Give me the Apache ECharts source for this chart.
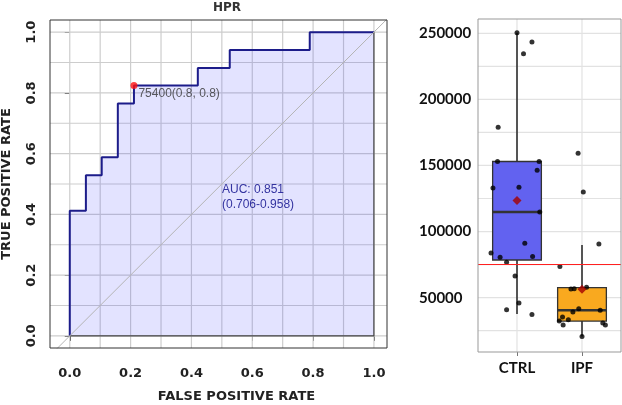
<!DOCTYPE html>
<html>
<head>
<meta charset="utf-8">
<script src="https://cdn.jsdelivr.net/npm/echarts@6/dist/echarts.min.js"></script>
<style>
  html, body { margin: 0; padding: 0; background: #fff; }
  #chart { width: 622px; height: 405px; }
</style>
</head>
<body>
<div id="chart"></div>
<script>
// ROC curve steps (false positive rate, true positive rate)
const rocFpr = [0, 0, 0.053, 0.053, 0.105, 0.105, 0.158, 0.158, 0.211, 0.211, 0.421, 0.421, 0.526, 0.526, 0.789, 0.789, 1];
const rocTpr = [0, 0.412, 0.412, 0.529, 0.529, 0.588, 0.588, 0.765, 0.765, 0.824, 0.824, 0.882, 0.882, 0.941, 0.941, 1, 1];
const bestPoint = [0.211, 0.824];
const bestLabel = '75400(0.8, 0.8)';
const aucText = ['AUC: 0.851', '(0.706-0.958)'];
const rocTicks = [0, 0.2, 0.4, 0.6, 0.8, 1];
const rocGrid = [0, 0.1, 0.2, 0.3, 0.4, 0.5, 0.6, 0.7, 0.8, 0.9, 1];

// boxplot panel
const groups = ['CTRL', 'IPF'];
// [min, q1, median, q3, max]
const boxStats = [
  [37600, 78500, 114850, 153000, 250450],
  [20700, 32300, 40400, 57600, 89850]
];
const groupMeans = [123500, 56300];
const cutoff = 75400;
const ctrlValues = [250450, 243400, 234550, 179000, 153000, 153000, 146450, 133000, 133600, 114850, 91150, 83800, 80500, 81050, 76750, 66350, 45900, 40900, 37350];
const ctrlJitter = [0.00, 0.23, 0.10, -0.29, -0.30, 0.34, 0.31, -0.37, 0.03, 0.35, 0.12, -0.40, -0.26, 0.24, -0.16, -0.03, 0.03, -0.16, 0.23];
const ipfValues = [159300, 130000, 90600, 73500, 56500, 56800, 57800, 41650, 39100, 40400, 32300, 35300, 33350, 29250, 30750, 29250, 20700];
const ipfJitter = [-0.06, 0.02, 0.26, -0.34, -0.17, -0.12, 0.07, -0.05, -0.14, 0.28, -0.35, -0.30, -0.21, -0.29, 0.32, 0.36, 0.00];
const boxTicks = [50000, 100000, 150000, 200000, 250000];
const boxGrid = [25000, 50000, 75000, 100000, 125000, 150000, 175000, 200000, 225000, 250000];

const boxColors = ['#6262f0', '#f9a91f'];
const leftFont = { fontFamily: 'DejaVu Sans', fontWeight: 'bold', fontSize: 13, color: '#222' };
const rightFont = { fontFamily: 'Lato', fontWeight: 'bold', fontSize: 15, color: '#111' };

const chart = echarts.init(document.getElementById('chart'));

const rocX = [-0.065, 1.043];
const rocY = [-0.04, 1.04];
const boxX = [0.4, 2.6];
const boxY = [8900, 260800];

const rocData = rocFpr.map((x, i) => [x, rocTpr[i]]);
const jitterPoints = ctrlValues.map((v, i) => [1 + ctrlJitter[i], v])
  .concat(ipfValues.map((v, i) => [2 + ipfJitter[i], v]));
const boxData = boxStats.map((s, i) => [i + 1].concat(s));
const meanData = groupMeans.map((m, i) => [i + 1, m]);

// light grid lines as one custom series: item = [value, 0 vertical | 1 horizontal]
function gridSeries(axisIndex, xs, ys, xr, yr, color) {
  return {
    type: 'custom', xAxisIndex: axisIndex, yAxisIndex: axisIndex,
    silent: true, z: 2,
    encode: { x: -1, y: -1 },
    data: xs.map(v => [v, 0]).concat(ys.map(v => [v, 1])),
    renderItem: function (params, api) {
      const v = api.value(0);
      const horizontal = api.value(1) === 1;
      const p1 = horizontal ? api.coord([xr[0], v]) : api.coord([v, yr[0]]);
      const p2 = horizontal ? api.coord([xr[1], v]) : api.coord([v, yr[1]]);
      return {
        type: 'line',
        shape: { x1: p1[0], y1: p1[1], x2: p2[0], y2: p2[1] },
        style: { stroke: color, lineWidth: 1.2 }
      };
    }
  };
}

// panel frame drawn along the axis extents
function frameSeries(axisIndex, xr, yr, color) {
  return {
    type: 'line', xAxisIndex: axisIndex, yAxisIndex: axisIndex,
    data: [[xr[0], yr[0]], [xr[1], yr[0]], [xr[1], yr[1]], [xr[0], yr[1]], [xr[0], yr[0]]],
    symbol: 'none', silent: true, clip: false, z: 9,
    lineStyle: { color: color, width: 1 }
  };
}

const option = {
  animation: false,
  title: {
    text: 'HPR',
    left: 222,
    top: -3,
    textAlign: 'center',
    textStyle: { fontFamily: 'DejaVu Sans', fontWeight: 'bold', fontSize: 12, color: '#333' }
  },
  graphic: [
    {
      type: 'text', left: 222, top: 182, z: 10,
      style: { text: aucText.join('\n'), fill: '#3333a0', font: '12px "Liberation Sans"', lineHeight: 15 }
    }
  ],
  grid: [
    { left: 50, top: 20, width: 337, height: 328, show: false, outerBoundsMode: 'none' },
    { left: 478, top: 19, width: 143, height: 333, show: false, outerBoundsMode: 'none' }
  ],
  xAxis: [
    {
      gridIndex: 0, type: 'value', min: rocX[0], max: rocX[1], position: 'bottom',
      name: 'FALSE POSITIVE RATE', nameLocation: 'middle', nameGap: 42,
      nameTextStyle: Object.assign({ padding: [0, 0, 0, 36] }, leftFont),
      axisLine: { show: false },
      axisTick: { show: true, length: 5, customValues: rocTicks, lineStyle: { color: '#333' } },
      axisLabel: Object.assign({ customValues: rocTicks, margin: 19, formatter: v => v.toFixed(1) }, leftFont),
      splitLine: { show: false }
    },
    {
      gridIndex: 1, type: 'value', min: boxX[0], max: boxX[1],
      axisLine: { show: false },
      axisTick: { show: true, length: 4, customValues: [1, 2], lineStyle: { color: '#777' } },
      axisLabel: Object.assign({ customValues: [1, 2], margin: 9, formatter: v => groups[Math.round(v) - 1] }, rightFont),
      splitLine: { show: false }
    }
  ],
  yAxis: [
    {
      gridIndex: 0, type: 'value', min: rocY[0], max: rocY[1], position: 'left',
      name: 'TRUE POSITIVE RATE', nameLocation: 'middle', nameGap: 37,
      nameTextStyle: leftFont,
      axisLine: { show: false },
      axisTick: { show: true, length: 5, customValues: rocTicks, lineStyle: { color: '#333' } },
      axisLabel: Object.assign({ customValues: rocTicks, margin: 12, rotate: 90, formatter: v => v.toFixed(1) }, leftFont),
      splitLine: { show: false }
    },
    {
      gridIndex: 1, type: 'value', min: boxY[0], max: boxY[1],
      axisLine: { show: false },
      axisTick: { show: false },
      axisLabel: Object.assign({ customValues: boxTicks, align: 'left', margin: 59, formatter: v => String(v) }, rightFont),
      splitLine: { show: false }
    }
  ],
  series: [
    gridSeries(0, rocGrid, rocGrid, rocX, rocY, '#cdcdcd'),
    gridSeries(1, [1, 2], boxGrid, boxX, boxY, '#e2e2e2'),
    frameSeries(0, rocX, rocY, '#333'),
    frameSeries(1, boxX, boxY, '#999'),
    {
      type: 'line', xAxisIndex: 0, yAxisIndex: 0,
      data: rocData, symbol: 'none',
      lineStyle: { color: '#1c1c8a', width: 2 },
      areaStyle: { color: 'rgba(60,60,255,0.2)', origin: 0 },
      z: 3
    },
    {
      type: 'line', xAxisIndex: 0, yAxisIndex: 0,
      data: [[1, 1], [1, 0], [0, 0]], symbol: 'none',
      lineStyle: { color: '#444', width: 1.2 },
      z: 4
    },
    {
      type: 'line', xAxisIndex: 0, yAxisIndex: 0,
      data: [[-0.2, -0.2], [1.2, 1.2]], symbol: 'none', clip: true,
      lineStyle: { color: '#b4b4b4', width: 1 },
      z: 5
    },
    {
      type: 'scatter', xAxisIndex: 0, yAxisIndex: 0,
      data: [bestPoint], symbolSize: 7,
      itemStyle: { color: '#ff1010' },
      label: {
        show: true, position: 'right', offset: [-4, 8],
        formatter: bestLabel,
        fontFamily: 'Liberation Sans', fontSize: 12, color: '#333'
      },
      z: 6
    },
    {
      type: 'custom', xAxisIndex: 1, yAxisIndex: 1,
      data: boxData,
      renderItem: function (params, api) {
        const x = api.value(0);
        const lo = api.coord([x, api.value(1)]);
        const q1 = api.coord([x, api.value(2)]);
        const med = api.coord([x, api.value(3)]);
        const q3 = api.coord([x, api.value(4)]);
        const hi = api.coord([x, api.value(5)]);
        const half = api.size([0.375, 0])[0];
        return {
          type: 'group',
          children: [
            { type: 'line', shape: { x1: lo[0], y1: lo[1], x2: q1[0], y2: q1[1] }, style: { stroke: '#222', lineWidth: 1.5 } },
            { type: 'line', shape: { x1: q3[0], y1: q3[1], x2: hi[0], y2: hi[1] }, style: { stroke: '#222', lineWidth: 1.5 } },
            { type: 'rect', shape: { x: q3[0] - half, y: q3[1], width: half * 2, height: q1[1] - q3[1] }, style: { fill: boxColors[params.dataIndex], stroke: '#333', lineWidth: 1.3 } },
            { type: 'line', shape: { x1: med[0] - half, y1: med[1], x2: med[0] + half, y2: med[1] }, style: { stroke: '#333', lineWidth: 2.5 } }
          ]
        };
      },
      z: 3
    },
    {
      type: 'scatter', xAxisIndex: 1, yAxisIndex: 1,
      data: jitterPoints, symbolSize: 5,
      itemStyle: { color: '#000' },
      z: 4
    },
    {
      type: 'scatter', xAxisIndex: 1, yAxisIndex: 1,
      data: meanData, symbol: 'diamond', symbolSize: 9,
      itemStyle: { color: '#a50000' },
      markLine: {
        silent: true, symbol: 'none', label: { show: false },
        lineStyle: { color: '#ff2020', width: 1.2, type: 'solid' },
        data: [{ yAxis: cutoff }]
      },
      z: 5
    }
  ]
};

chart.setOption(option);
</script>
</body>
</html>
